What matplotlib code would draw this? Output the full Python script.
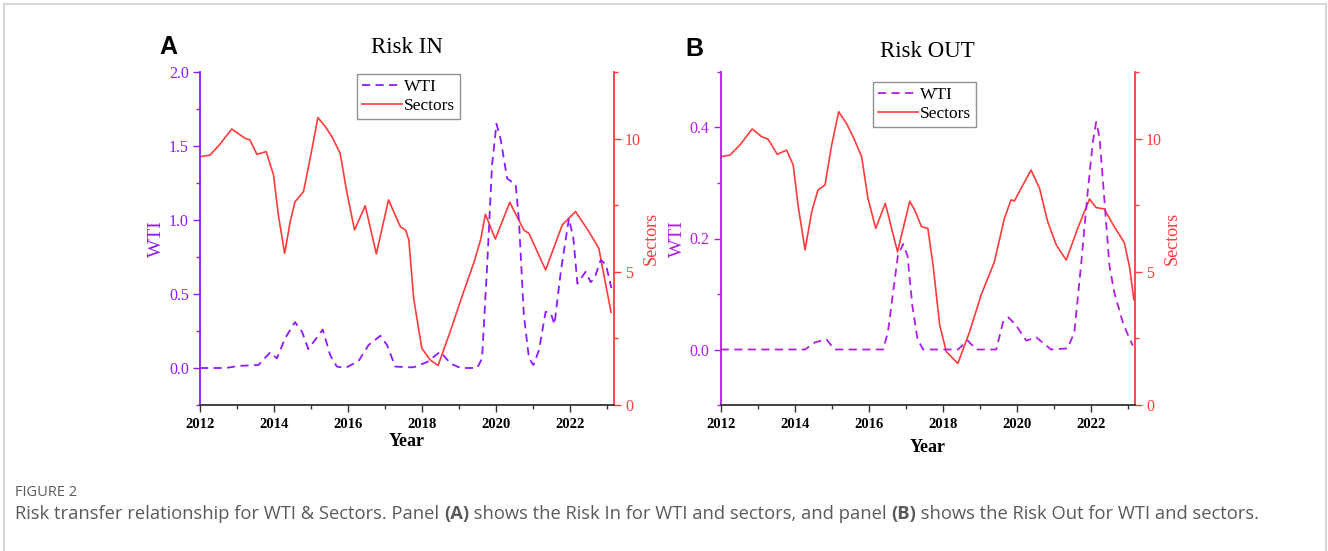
import numpy as np
import matplotlib
matplotlib.use('Agg')
import matplotlib.pyplot as plt
from matplotlib.ticker import MultipleLocator

W, H = 1328, 551

# ---- Panel A: Risk IN ----
yearA_wti = [2012.0, 2012.7, 2013.04, 2013.58, 2013.90, 2014.08, 2014.30, 2014.57, 2014.76, 2014.93,
             2015.32, 2015.52, 2015.70, 2015.93, 2016.29, 2016.56, 2016.88, 2017.06, 2017.28, 2017.6,
             2017.78, 2018.14, 2018.50, 2018.78, 2019.05, 2019.50, 2019.63, 2019.77, 2019.90, 2020.02,
             2020.13, 2020.31, 2020.54, 2020.63, 2020.76, 2020.90, 2021.02, 2021.17, 2021.35, 2021.49,
             2021.59, 2021.76, 2021.98, 2022.10, 2022.21, 2022.43, 2022.57, 2022.68, 2022.84, 2022.98,
             2023.13]
wtiA = [0.0, 0.0, 0.014, 0.02, 0.106, 0.065, 0.2, 0.31, 0.245, 0.128,
        0.26, 0.088, 0.01, 0.0, 0.047, 0.155, 0.218, 0.155, 0.01, 0.005,
        0.005, 0.04, 0.11, 0.03, 0.0, 0.0, 0.065, 0.70, 1.37, 1.65,
        1.55, 1.28, 1.24, 0.99, 0.36, 0.065, 0.02, 0.12, 0.38, 0.37,
        0.295, 0.65, 1.01, 0.88, 0.57, 0.65, 0.58, 0.61, 0.73, 0.70,
        0.54]

yearA_sec = [2012.0, 2012.27, 2012.54, 2012.86, 2013.22, 2013.35, 2013.54, 2013.79, 2013.99, 2014.12,
             2014.29, 2014.44, 2014.57, 2014.80, 2014.98, 2015.19, 2015.39, 2015.57, 2015.79, 2015.97,
             2016.18, 2016.47, 2016.77, 2017.10, 2017.42, 2017.56, 2017.65, 2017.78, 2018.0, 2018.23,
             2018.44, 2018.78, 2019.07, 2019.41, 2019.59, 2019.72, 2019.99, 2020.38, 2020.76, 2020.90,
             2021.35, 2021.80, 2022.16, 2022.52, 2022.79, 2023.12]
secA = [9.32, 9.38, 9.79, 10.36, 10.01, 9.95, 9.41, 9.51, 8.63, 7.13,
        5.69, 6.88, 7.63, 8.01, 9.26, 10.79, 10.45, 10.07, 9.45, 8.01,
        6.57, 7.48, 5.67, 7.70, 6.69, 6.57, 6.2, 4.0, 2.13, 1.69,
        1.48, 2.8, 4.0, 5.35, 6.19, 7.16, 6.23, 7.61, 6.57, 6.44,
        5.07, 6.76, 7.26, 6.51, 5.88, 3.48]

# ---- Panel B: Risk OUT ----
yearB_wti = [2012.0, 2014.28, 2014.55, 2014.86, 2015.08, 2016.39, 2016.52, 2016.66, 2016.79, 2016.93,
             2017.05, 2017.18, 2017.32, 2017.47, 2018.41, 2018.68, 2018.91, 2019.45, 2019.63, 2019.78,
             2019.99, 2020.26, 2020.53, 2020.93, 2021.38, 2021.56, 2021.74, 2021.92, 2022.06, 2022.15,
             2022.24, 2022.37, 2022.51, 2022.64, 2022.87, 2022.96, 2023.14]
wtiB = [0.0, 0.0, 0.013, 0.018, 0.0, 0.0, 0.031, 0.103, 0.169, 0.19,
        0.169, 0.079, 0.019, 0.0, 0.0, 0.016, 0.0, 0.0, 0.049, 0.058,
        0.043, 0.016, 0.022, 0.0, 0.002, 0.031, 0.151, 0.283, 0.374, 0.41,
        0.383, 0.272, 0.151, 0.103, 0.049, 0.034, 0.007]

yearB_sec = [2012.0, 2012.25, 2012.52, 2012.85, 2013.11, 2013.28, 2013.53, 2013.78, 2013.96, 2014.09,
             2014.28, 2014.46, 2014.63, 2014.82, 2015.0, 2015.19, 2015.40, 2015.58, 2015.81, 2015.98,
             2016.19, 2016.45, 2016.78, 2017.11, 2017.25, 2017.43, 2017.60, 2017.74, 2017.92, 2018.10,
             2018.41, 2018.73, 2019.04, 2019.40, 2019.67, 2019.85, 2019.94, 2020.12, 2020.39, 2020.62,
             2020.84, 2021.07, 2021.34, 2021.65, 2021.97, 2022.15, 2022.37, 2022.64, 2022.91, 2023.05,
             2023.17]
secB = [9.32, 9.38, 9.76, 10.36, 10.07, 9.98, 9.41, 9.57, 9.01, 7.51,
        5.82, 7.26, 8.07, 8.26, 9.76, 11.01, 10.57, 10.07, 9.32, 7.76,
        6.63, 7.57, 5.75, 7.65, 7.3, 6.69, 6.63, 5.26, 3.0, 2.0,
        1.56, 2.75, 4.13, 5.38, 7.01, 7.70, 7.66, 8.13, 8.82, 8.13,
        6.88, 6.01, 5.44, 6.63, 7.73, 7.41, 7.36, 6.69, 6.1, 5.2,
        3.95]

red = '#ff3b3b'
serif = 'Liberation Serif'

fig = plt.figure(figsize=(W / 100, H / 100), dpi=100)


def panel(left, xw, wti_x, wti_y, sec_x, sec_y, col, ylim, ystep, title, tpad,
          letter, letter_xy, leg_xy, xlab_y):
    ax = fig.add_axes([left / W, (H - 405) / H, xw / W, 333 / H])
    ax2 = ax.twinx()
    l1, = ax.plot(wti_x, wti_y, color=col, lw=1.3, linestyle=(0, (4.5, 3)))
    l2, = ax2.plot(sec_x, sec_y, color=red, lw=1.2)
    ax.set_xlim(2012, 2023.2)
    ax.set_ylim(*ylim)
    ax2.set_ylim(0, 12.5)
    ax.xaxis.set_major_locator(MultipleLocator(2))
    ax.xaxis.set_minor_locator(MultipleLocator(1))
    ax.yaxis.set_major_locator(MultipleLocator(ystep))
    ax.yaxis.set_minor_locator(MultipleLocator(ystep / 2))
    ax2.yaxis.set_major_locator(MultipleLocator(5))
    ax2.yaxis.set_minor_locator(MultipleLocator(2.5))
    ax.yaxis.set_major_formatter(matplotlib.ticker.FormatStrFormatter('%.1f'))

    for a in (ax, ax2):
        a.spines['top'].set_visible(False)
    ax.spines['right'].set_visible(False)
    ax2.spines['left'].set_visible(False)
    ax2.spines['bottom'].set_visible(False)
    ax.spines['left'].set_color(col)
    ax.spines['left'].set_linewidth(1.3)
    ax.spines['bottom'].set_color('#333333')
    ax.spines['bottom'].set_linewidth(1.3)
    ax2.spines['right'].set_color(red)
    ax2.spines['right'].set_linewidth(1.3)

    ax.tick_params(axis='x', which='major', direction='out', length=5, width=1, color='#333333',
                   labelsize=10.5, pad=4)
    ax.tick_params(axis='x', which='minor', direction='out', length=3, width=1, color='#333333')
    ax.tick_params(axis='y', which='major', direction='out', length=5, width=1, color=col,
                   labelcolor=col, labelsize=11.5, pad=3)
    ax.tick_params(axis='y', which='minor', direction='out', length=3, width=1, color=col)
    ax2.tick_params(axis='y', which='major', direction='out', length=5, width=1, color=red,
                    labelcolor=red, labelsize=11.5, pad=3)
    ax2.tick_params(axis='y', which='minor', direction='out', length=3, width=1, color=red)
    for t in ax.get_xticklabels():
        t.set_fontfamily(serif)
        t.set_fontweight('bold')
    for t in ax.get_yticklabels() + ax2.get_yticklabels():
        t.set_fontfamily(serif)

    ax.set_ylabel('WTI', color=col, fontsize=14, family=serif, labelpad=3)
    ax2.set_ylabel('Sectors', color=red, fontsize=13, family=serif, labelpad=1)
    ax.set_title(title, fontsize=16.5, family=serif, pad=tpad)
    fig.text((left + xw / 2) / W, xlab_y, 'Year', ha='center', va='center',
             fontsize=13, family=serif, fontweight='bold')
    fig.text(letter_xy[0] / W, 1 - letter_xy[1] / H, letter, ha='center', va='center',
             fontsize=18, fontweight='bold', family='Liberation Sans')

    leg = ax.legend([l1, l2], ['WTI', 'Sectors'], loc='upper left',
                    bbox_to_anchor=(leg_xy[0] / W, 1 - leg_xy[1] / H), bbox_transform=fig.transFigure,
                    prop={'family': serif, 'size': 12.5}, frameon=True, fancybox=False,
                    edgecolor='#777777', handlelength=2.3, handletextpad=0.1,
                    borderpad=0.3, labelspacing=0.15, borderaxespad=0)
    leg.get_frame().set_linewidth(1.0)
    ax.set_zorder(ax2.get_zorder() + 1)
    ax.patch.set_visible(False)
    return ax


panel(200, 414, yearA_wti, wtiA, yearA_sec, secA, '#8c1aff', (-0.25, 2.0), 0.5,
      'Risk IN', 14, 'A', (168, 47), (357, 74), 1 - 442 / H)
panel(720.7, 414.3, yearB_wti, wtiB, yearB_sec, secB, '#b01ee6', (-0.1, 0.5), 0.2,
      'Risk OUT', 11, 'B', (694, 49), (873, 82), 1 - 448 / H)

# frame lines around figure
fig.add_artist(plt.Line2D([4 / W, 4 / W], [0, 1 - 4 / H], color='#cfcfcf', lw=1.2))
fig.add_artist(plt.Line2D([4 / W, 1326 / W], [1 - 4 / H, 1 - 4 / H], color='#cfcfcf', lw=1.2))
fig.add_artist(plt.Line2D([1326 / W, 1326 / W], [0, 1 - 4 / H], color='#cfcfcf', lw=1.2))

# caption
cap_font = 'Open Sans'
fig.text(15 / W, 1 - 492 / H, 'FIGURE 2', fontsize=10.5, family=cap_font, color='#5a5a5a', va='center')
parts = [('Risk transfer relationship for WTI & Sectors. Panel ', 'normal'),
         ('(A)', 'bold'),
         (' shows the Risk In for WTI and sectors, and panel ', 'normal'),
         ('(B)', 'bold'),
         (' shows the Risk Out for WTI and sectors.', 'normal')]
renderer = fig.canvas.get_renderer()
x = 15 / W
for s, wgt in parts:
    t = fig.text(x, 1 - 514 / H, s, fontsize=13.25, family=cap_font, color='#5a5a5a',
                 fontweight=wgt, va='center')
    bb = t.get_window_extent(renderer)
    x = bb.x1 / W

fig.savefig('out.png', dpi=100)
